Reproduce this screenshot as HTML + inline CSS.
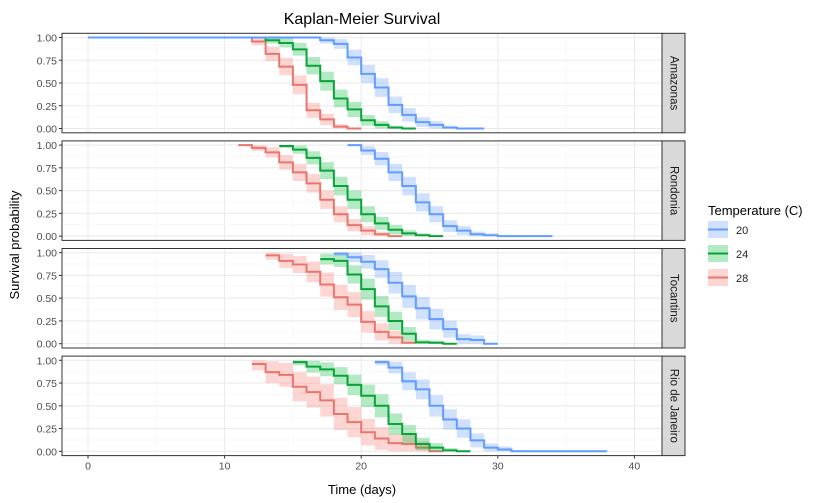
<!DOCTYPE html>
<html><head><meta charset="utf-8"><style>
body{margin:0;background:#fff;}
svg{display:block;font-family:"Liberation Sans",sans-serif;}
</style></head><body>
<svg id="chart" width="834" height="503" xmlns="http://www.w3.org/2000/svg">
<rect width="834" height="503" fill="#fff"/>
<text x="362" y="24" font-size="16" text-anchor="middle" fill="#000">Kaplan-Meier Survival</text>
<text x="19" y="245" font-size="13" text-anchor="middle" transform="rotate(-90 19 245)">Survival probability</text>
<text x="362" y="494" font-size="13" text-anchor="middle">Time (days)</text>
<g id="panels"></g>
<g>
<text x="708" y="215" font-size="13">Temperature (C)</text>
<g><rect x="708" y="221" width="20" height="17" fill="#619CFF" fill-opacity="0.3"/><line x1="708" y1="229.5" x2="728" y2="229.5" stroke="#619CFF" stroke-width="2"/><text x="736" y="234" font-size="11" fill="#222">20</text></g>
<g><rect x="708" y="245" width="20" height="17" fill="#00BA38" fill-opacity="0.3"/><line x1="708" y1="253.5" x2="728" y2="253.5" stroke="#0aa33a" stroke-width="2"/><text x="736" y="258" font-size="11" fill="#222">24</text></g>
<g><rect x="708" y="269" width="20" height="17" fill="#F8766D" fill-opacity="0.3"/><line x1="708" y1="277.5" x2="728" y2="277.5" stroke="#e8766d" stroke-width="2"/><text x="736" y="282" font-size="11" fill="#222">28</text></g>
</g>
</svg>
<script>
const regions = ["Amazonas","Rondonia","Tocantins","Rio de Janeiro"];
const xTicks = [0,10,20,30,40];
const yTicks = [0,0.25,0.5,0.75,1];
const yTickLabels = ["0.00","0.25","0.50","0.75","1.00"];
// start day of each series per region, then survival per day interval
const start20 = [0,19,18,21];
const start24 = [12,14,17,15];
const start28 = [11,11,13,12];
const surv20 = [
 [1,1,1,1,1,1,1,1,1,1,1,1,1,1,1,1,1,0.97,0.93,0.78,0.6,0.45,0.26,0.15,0.07,0.04,0.01,0,0],
 [1,0.94,0.85,0.70,0.55,0.37,0.24,0.11,0.06,0.02,0.01,0,0,0,0],
 [0.99,0.95,0.90,0.82,0.67,0.52,0.39,0.27,0.16,0.05,0.04,0],
 [0.98,0.92,0.77,0.68,0.5,0.35,0.25,0.12,0.04,0.02,0,0,0,0,0,0,0]
];
const surv24 = [
 [1,0.97,0.94,0.87,0.69,0.52,0.33,0.21,0.09,0.04,0.01,0],
 [0.99,0.95,0.86,0.72,0.55,0.40,0.24,0.14,0.07,0.03,0.01,0],
 [0.93,0.91,0.76,0.6,0.41,0.25,0.11,0.015,0.01,0],
 [0.98,0.93,0.90,0.83,0.73,0.61,0.50,0.30,0.19,0.08,0.04,0.01,0]
];
const surv28 = [
 [1,0.956,0.82,0.68,0.48,0.20,0.10,0.02,0],
 [1,0.97,0.92,0.81,0.70,0.58,0.40,0.24,0.12,0.06,0.02,0],
 [0.97,0.91,0.87,0.79,0.65,0.51,0.43,0.24,0.13,0.07,0.01],
 [0.96,0.87,0.84,0.71,0.65,0.56,0.41,0.32,0.21,0.14,0.09,0.08,0.04,0]
];
const nAt20 = [90,90,60,70];
const nAt24 = [90,90,70,60];
const nAt28 = [90,90,50,30];

const NS="http://www.w3.org/2000/svg";
const g=document.getElementById('panels');
const PL=62,PR=662,PH=99.5,TOPS=[33.3,140.9,248.5,356.1];
const xs=d=>88+13.66*d;
function mk(t,a,parent){const e=document.createElementNS(NS,t);for(const k in a)e.setAttribute(k,a[k]);(parent||g).appendChild(e);return e;}
const series=[
 {key:'28',start:start28,surv:surv28,n:nAt28,line:'#e8766d',fill:'#F8766D'},
 {key:'24',start:start24,surv:surv24,n:nAt24,line:'#0aa33a',fill:'#00BA38'},
 {key:'20',start:start20,surv:surv20,n:nAt20,line:'#619CFF',fill:'#619CFF'}
];
regions.forEach((reg,p)=>{
  const top=TOPS[p];
  const ys=v=>top+95.2-v*91.0;
  const pg=mk('g',{});
  
  
  mk('rect',{x:PL,y:top,width:PR-PL,height:PH,fill:'#fff'},pg);
  for(let d=-0;d<=40;d+=5){const c=d%10===0;mk('line',{x1:xs(d),x2:xs(d),y1:top,y2:top+PH,stroke:c?'#ebebeb':'#f4f4f4','stroke-width':c?1.1:0.6},pg);}
  for(let v=0;v<=1.001;v+=0.125){const c=Math.round(v*8)%2===0;mk('line',{x1:PL,x2:PR,y1:ys(v),y2:ys(v),stroke:c?'#ebebeb':'#f4f4f4','stroke-width':c?1.1:0.6},pg);}
  series.forEach(s=>{
    const st=s.start[p],sv=s.surv[p],n=s.n[p];
    const sg=mk('g',{},pg);
    
    
    sv.forEach((v,i)=>{
      const h=1.96*Math.sqrt(v*(1-v)/n);
      if(h>0.001){const r=mk('rect',{x:xs(st+i),width:xs(st+i+1)-xs(st+i),y:ys(Math.min(1,v+h)),height:ys(Math.max(0,v-h))-ys(Math.min(1,v+h)),fill:s.fill,'fill-opacity':0.3},sg);
        
        }
    });
    let d='M'+xs(st)+' '+ys(sv[0]);
    sv.forEach((v,i)=>{d+=' L'+xs(st+i)+' '+ys(v)+' L'+xs(st+i+1)+' '+ys(v);});
    const pth=mk('path',{d:d,fill:'none',stroke:s.line,'stroke-width':2},sg);
    
    
  });
  mk('rect',{x:PL,y:top,width:PR-PL,height:PH,fill:'none',stroke:'#333','stroke-width':1},pg);
  yTicks.forEach((v,i)=>{
    mk('line',{x1:PL-3,x2:PL,y1:ys(v),y2:ys(v),stroke:'#333'},pg);
    const t=mk('text',{x:PL-5,y:ys(v)+4,'font-size':10.5,'text-anchor':'end',fill:'#4d4d4d'},pg);t.textContent=yTickLabels[i];
    
    
  });
  const sx=PR,sw=23;
  const sr=mk('rect',{x:sx,y:top,width:sw,height:PH,fill:'#d9d9d9',stroke:'#333'},pg);
  
  
  const cx=sx+sw/2,cy=top+PH/2;
  const st=mk('text',{x:cx,y:cy,'font-size':11.5,'text-anchor':'middle','dominant-baseline':'central',fill:'#1a1a1a',transform:`rotate(90 ${cx} ${cy})`},pg);
  st.textContent=reg;
  
  
});
const bot=TOPS[3]+PH;
xTicks.forEach(d=>{
  mk('line',{x1:xs(d),x2:xs(d),y1:bot,y2:bot+3,stroke:'#333'});
  const t=mk('text',{x:xs(d),y:bot+14,'font-size':10.5,'text-anchor':'middle',fill:'#4d4d4d'});t.textContent=d;
  
  
});
</script>
</body></html>
